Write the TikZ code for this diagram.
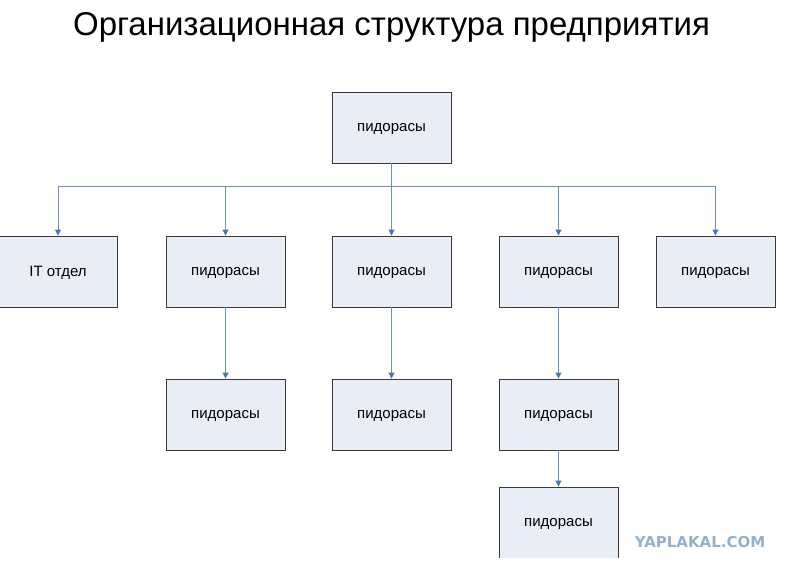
\documentclass[tikz,border=0pt]{standalone}
\usepackage{fontspec}
\setmainfont{Liberation Sans}
\newfontfamily\wmfont{DejaVu Sans}
\usetikzlibrary{arrows.meta}
\definecolor{boxfill}{HTML}{E9EDF6}
\definecolor{boxline}{HTML}{3A3A3A}
\definecolor{conn}{HTML}{6E8FC4}
\definecolor{tip}{HTML}{4A72B8}
\definecolor{wm}{HTML}{93B1CD}
\tikzset{
  unit/.style={draw=boxline, fill=boxfill, line width=0.9pt, minimum width=119pt, minimum height=71pt, inner sep=0pt, text depth=0pt, font=\fontsize{15}{17}\selectfont},
  link/.style={draw=conn, line width=0.9pt, -{Triangle[length=6pt,width=6pt,fill=tip,color=tip]}},
  bus/.style={draw=conn, line width=0.9pt},
}
\begin{document}
\begin{tikzpicture}[x=1pt,y=-1pt]
\useasboundingbox (0,0) rectangle (794,570);
\node[font=\fontsize{33}{36}\selectfont, anchor=center] (title) at (391.5,27) {Организационная структура предприятия};
\node[unit] (top) at (391.5,127.5) {пидорасы};
\node[unit] (it) at (58,271.5) {IT отдел};
\node[unit] (b) at (225.5,271.5) {пидорасы};
\node[unit] (c) at (391.5,271.5) {пидорасы};
\node[unit] (d) at (558.5,271.5) {пидорасы};
\node[unit] (e) at (715.5,271.5) {пидорасы};
\node[unit] (b2) at (225.5,414.5) {пидорасы};
\node[unit] (c2) at (391.5,414.5) {пидорасы};
\node[unit] (d2) at (558.5,414.5) {пидорасы};
\begin{scope}
\clip (450,480) rectangle (650,557.3);
\node[unit] (d3) at (558.5,522.5) {пидорасы};
\end{scope}
\coordinate (j) at (391.5,186);
\draw[bus] (top.south) -- (j);
\draw[bus] (it.north |- j) -- (e.north |- j);
\foreach \n in {it,b,c,d,e}{
  \draw[link] (\n.north |- j) -- (\n.north);
}
\draw[link] (b.south) -- (b2.north);
\draw[link] (c.south) -- (c2.north);
\draw[link] (d.south) -- (d2.north);
\draw[link] (d2.south) -- (d3.north);
\node[font=\wmfont\bfseries\fontsize{15}{17}\selectfont, text=wm, anchor=center, inner sep=0pt] (mark) at (700,542.5) {YAPLAKAL.COM};
\end{tikzpicture}
\end{document}
